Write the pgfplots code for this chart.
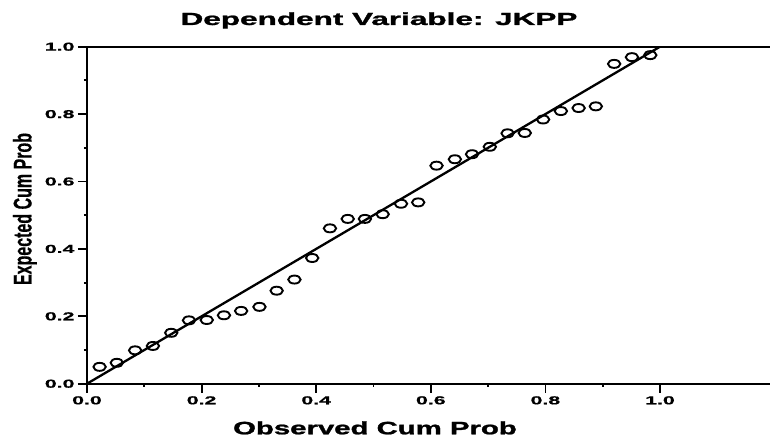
\documentclass[border=0pt]{standalone}
\usepackage{fontspec}
\setmainfont{Liberation Sans}
\newfontfamily\heavy[FakeBold=1.2]{Liberation Sans Bold}
\newfontfamily\heavyb[FakeBold=0.6]{Liberation Sans Bold}
\usepackage{pgfplots}
\pgfplotsset{compat=1.18}
\begin{document}
\begin{tikzpicture}
\begin{axis}[
  at={(0pt,0pt)}, anchor=south west,
  scale only axis, width=686pt, height=337pt,
  xmin=0, xmax=1.1972, ymin=0, ymax=1,
  axis line style={line width=2.3pt, black},
  xtick={0,0.2,0.4,0.6,0.8,1.0}, ytick={0,0.2,0.4,0.6,0.8,1.0},
  minor xtick={0.1,0.3,0.5,0.7,0.9}, minor ytick={0.1,0.3,0.5,0.7,0.9},
  tick pos=left, tick align=outside,
  major tick length=9pt, minor tick length=3pt,
  tick style={line width=1.8pt, black},
  xticklabel={\scalebox{1.85}[1]{\heavyb\fontsize{11.5}{12}\selectfont\pgfmathprintnumber[fixed,fixed zerofill,precision=1,assume math mode=true]{\tick}}},
  yticklabel={\scalebox{1.85}[1]{\heavyb\fontsize{11.5}{12}\selectfont\pgfmathprintnumber[fixed,fixed zerofill,precision=1,assume math mode=true]{\tick}}},
]
\addplot[only marks, mark=o, mark size=4pt, mark options={line width=1.9pt, xscale=1.55, black}] coordinates {
(0.022,0.050) (0.052,0.062) (0.084,0.099) (0.115,0.112) (0.147,0.151)
(0.178,0.188) (0.209,0.189) (0.239,0.203) (0.269,0.216) (0.301,0.228)
(0.331,0.276) (0.362,0.309) (0.393,0.373) (0.424,0.461) (0.455,0.489)
(0.485,0.489) (0.516,0.503) (0.548,0.534) (0.578,0.538) (0.610,0.647)
(0.642,0.666) (0.672,0.681) (0.703,0.703) (0.734,0.743) (0.764,0.744)
(0.796,0.784) (0.827,0.809) (0.858,0.818) (0.888,0.823) (0.920,0.949)
(0.951,0.969) (0.983,0.975)
};
\addplot[line width=2.3pt, black] coordinates {(0,0) (1,1)};
\end{axis}
\node[anchor=base] at (292pt,358.7pt) {\scalebox{1.8}[1]{\heavy\fontsize{17.5}{20}\selectfont Dependent Variable: JKPP}};
\node[anchor=base] at (288pt,-50.6pt) {\scalebox{1.63}[1]{\heavy\fontsize{18}{20}\selectfont Observed Cum Prob}};
\node[xscale=1.6, rotate=90, anchor=base] at (-55.5pt,174.7pt) {\heavyb\fontsize{16}{18}\selectfont Expected Cum Prob};
\pgfresetboundingbox
\useasboundingbox (-87pt,-58.3pt) rectangle (683pt,383.7pt);
\end{tikzpicture}
\end{document}
